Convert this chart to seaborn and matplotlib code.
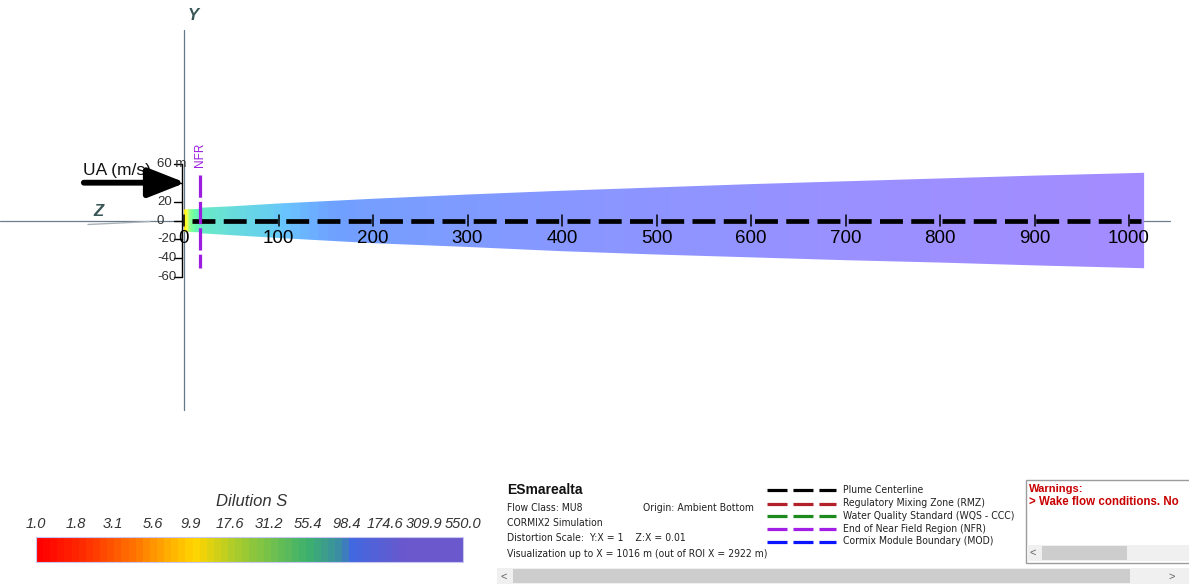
import numpy as np
import matplotlib
matplotlib.use("Agg")
import matplotlib.pyplot as plt
from matplotlib import font_manager
from matplotlib.colors import LinearSegmentedColormap, ListedColormap, LogNorm
from matplotlib.patches import Polygon, Rectangle
from matplotlib.cm import ScalarMappable
import seaborn as sns

# ---------------- data ----------------
# dilution S along the plume centreline (x in m)
plume_x = [0, 2, 4, 7, 12, 17, 50, 100, 200, 300, 500, 700, 1016]
dilution = [5.5, 12, 28, 45, 60, 68, 80, 95, 122, 140, 175, 205, 245]

# plume outline (half widths in m, upper and lower edges)
edge_x = [0, 17, 17, 50, 100, 200, 300, 400, 500, 600, 700, 800, 900, 1016]
edge_upper = [11.8, 12.3, 13.5, 15.0, 18.0, 23.0, 27.5, 31.5, 35.0, 38.5, 41.5, 44.5, 47.5, 50.5]
edge_lower = [-12.0, -12.5, -13.5, -15.5, -18.5, -24.0, -28.0, -32.5, -36.0, -39.0, -42.0, -44.5, -47.5, -50.5]

centerline_x = [8, 1013]
nfr_x = 17
x_ticks = [0, 100, 200, 300, 400, 500, 600, 700, 800, 900, 1000]
y_ticks = [60, 40, 20, 0, -20, -40, -60]
y_tick_labels = ["60 m", "40", "20", "0", "-20", "-40", "-60"]
ua_level = 40

s_min, s_max = 1.0, 550.0
cbar_values = [1.0, 1.8, 3.1, 5.6, 9.9, 17.6, 31.2, 55.4, 98.4, 174.6, 309.9, 550.0]
cbar_labels = ["1.0", "1.8", "3.1", "5.6", "9.9", "17.6", "31.2", "55.4", "98.4", "174.6", "309.9", "550.0"]

info_lines = ["Flow Class: MU8", "CORMIX2 Simulation",
              "Distortion Scale:  Y:X = 1    Z:X = 0.01",
              "Visualization up to X = 1016 m (out of ROI X = 2922 m)"]
legend_labels = ["Plume Centerline", "Regulatory Mixing Zone (RMZ)",
                 "Water Quality Standard (WQS - CCC)", "End of Near Field Region (NFR)",
                 "Cormix Module Boundary (MOD)"]
legend_colors = ["#000000", "#b3202a", "#1c8a1c", "#a21ee6", "#0a14ff"]

# ---------------- style ----------------
sns.set_theme(style="white")
plt.rcParams["font.family"] = ["Liberation Sans", "DejaVu Sans"]
plt.rcParams["lines.scale_dashes"] = False

names = {f.name for f in font_manager.fontManager.ttflist}
if "Liberation Sans Narrow" in names:
    narrow = dict(family=["Liberation Sans Narrow", "DejaVu Sans"])
else:
    narrow = dict(family=["DejaVu Sans"], stretch="condensed")

W, H = 1189, 584
PX = 0.945            # pixels per metre
X0, Y0 = 184, 220.5   # pixel position of the origin

fig = plt.figure(figsize=(W / 100, H / 100), dpi=100)
fig.patch.set_facecolor("white")
ax = fig.add_axes([0, 0, 1, 1])
ax.set_xlim(-X0 / PX, (W - X0) / PX)
ax.set_ylim(-(H - Y0) / PX, Y0 / PX)
ax.axis("off")

# ---------------- colour scale ----------------
anchors = [(0.00, "#ff0000"), (0.10, "#ff2a00"), (0.22, "#ff7000"), (0.30, "#ffaa00"),
           (0.37, "#ffd500"), (0.47, "#a8cc2c"), (0.56, "#6cbf50"), (0.64, "#3cb16e"),
           (0.72, "#3b8aa8"), (0.745, "#4168e0"), (0.87, "#6a58cc"), (1.00, "#6a58cc")]
smooth = LinearSegmentedColormap.from_list("dil", anchors)
stepped = ListedColormap(smooth(np.linspace(0, 1, 60)))
norm = LogNorm(s_min, s_max)

# ---------------- plume ----------------
xs = np.arange(0, 1017, 1.0)
logS = np.interp(xs, plume_x, np.log(dilution))
rgb = np.array(smooth(norm(np.exp(logS))))[:, :3]
lit = np.clip(rgb * 1.28 + 0.11, 0, 1)
img = np.repeat(lit[None, :, :], 2, axis=0)
im = ax.imshow(img, extent=[0, 1016, -60, 60], origin="lower", aspect="auto",
               interpolation="bilinear", zorder=2)
outline = np.column_stack([edge_x + edge_x[::-1], edge_upper + edge_lower[::-1]])
clip = Polygon(outline, closed=True, transform=ax.transData, facecolor="none", edgecolor="none")
ax.add_patch(clip)
im.set_clip_path(clip)

# ---------------- axes lines ----------------
ax.plot([-X0 / PX, (1170 - X0) / PX], [0, 0], color="#6c7c8c", lw=0.9, zorder=1)
ax.plot([0, 0], [(Y0 - 30) / PX, (Y0 - 410) / PX], color="#62778a", lw=0.9, zorder=1)
ax.plot([(88 - X0) / PX, (150 - X0) / PX], [-(224.5 - Y0) / PX, -(221.5 - Y0) / PX],
        color="#a8b0b8", lw=1.0, zorder=1)
ax.text(9.5, (Y0 - 15.5) / PX, "Y", fontsize=12, fontweight="bold", fontstyle="italic",
        color="#3a5656", ha="center", va="center")
ax.text(-91, (Y0 - 211) / PX, "Z", fontsize=12, fontweight="bold", fontstyle="italic",
        color="#3a5656", ha="center", va="center")

# Y ruler
ruler_x = -2.4
ax.plot([ruler_x, ruler_x], [-60, 60], color="black", lw=1.0, zorder=3)
for v, lab in zip(y_ticks, y_tick_labels):
    ax.plot([ruler_x - 8.5, ruler_x], [v, v], color="black", lw=1.0, zorder=3)
    ax.text(-28.6, v, lab, fontsize=9.5, color="#303030", ha="left", va="center", zorder=3)

# centreline
sns.lineplot(x=centerline_x, y=[0, 0], ax=ax, color="black", lw=3.4,
             linestyle=(0, (16.5, 6.0)), zorder=5, legend=False)
for t in x_ticks:
    ax.plot([t, t], [-5.5, 5.5], color="black", lw=1.1, zorder=5)
    ax.text(t, -19.5, str(t), fontsize=13.5, color="black", ha="center", va="center", zorder=6)

# near field region boundary
ax.plot([nfr_x, nfr_x], [48, -50], color="#9b1de0", lw=2.3,
        linestyle=(0, (16, 3)), zorder=6)
ax.text(nfr_x, 70, "NFR", rotation=90, fontsize=8.5, color="#9b1de0",
        ha="center", va="center")

# ambient current arrow
ax.text(-107, 53, "UA (m/s)", fontsize=12.5, color="#111111", ha="left", va="center", zorder=6)
ax.annotate("", xy=(1.5, ua_level), xytext=(-106, ua_level),
            arrowprops=dict(arrowstyle="-|>,head_length=1.9,head_width=0.75",
                            color="black", lw=4.2, shrinkA=0, shrinkB=0,
                            capstyle="round"), zorder=7)

# ---------------- colour bar ----------------
cax = fig.add_axes([36 / W, (H - 562) / H, 427 / W, 25 / H])
cb = fig.colorbar(ScalarMappable(norm=norm, cmap=stepped), cax=cax,
                  orientation="horizontal", ticks=cbar_values)
cb.minorticks_off()
cax.xaxis.set_ticks_position("top")
cax.set_xticks(cbar_values)
cax.set_xticklabels(cbar_labels, fontsize=10.5, fontstyle="italic", color="#333333")
cax.tick_params(axis="x", length=0, pad=4)
cb.outline.set_edgecolor("#c9c6f0")
cb.outline.set_linewidth(0.8)

# ---------------- overlay in pixel coordinates ----------------
ov = fig.add_axes([0, 0, 1, 1])
ov.set_xlim(0, W)
ov.set_ylim(H, 0)
ov.axis("off")
ov.patch.set_alpha(0)

ov.text(252, 502, "Dilution S", fontsize=12, fontstyle="italic", color="#333333",
        ha="center", va="center")

ov.text(507, 490, "ESmarealta", fontsize=10, fontweight="bold", color="#111111",
        ha="left", va="center")
ov.text(643, 508, "Origin: Ambient Bottom", fontsize=7.5, color="#222222",
        ha="left", va="center", **narrow)
for y, line in zip([508, 523, 538, 554], info_lines):
    ov.text(507, y, line, fontsize=7.5, color="#222222", ha="left", va="center", **narrow)

for y, lab, col in zip([490, 503.5, 516, 528.5, 541.5], legend_labels, legend_colors):
    ov.plot([767, 836], [y, y], color=col, lw=2.3, linestyle=(0, (14.4, 4.3)),
            solid_capstyle="butt", dash_capstyle="butt")
    ov.text(843, y, lab, fontsize=7.5, color="#222222", ha="left", va="center", **narrow)

# warnings panel
ov.add_patch(Rectangle((1026, 480), 200, 83, facecolor="white", edgecolor="#9c9c9c", lw=1))
ov.text(1029, 489, "Warnings:", fontsize=8, fontweight="bold", color="#c80000",
        ha="left", va="center")
ov.text(1029, 502, "> Wake flow conditions. No", fontsize=8.3, fontweight="bold",
        color="#c80000", ha="left", va="center")
ov.add_patch(Rectangle((1027, 545), 170, 16, facecolor="#f0f0f0", edgecolor="none"))
ov.add_patch(Rectangle((1042, 546), 85, 14, facecolor="#cdcdcd", edgecolor="none"))
ov.text(1033, 553, "<", fontsize=8, color="#606060", ha="center", va="center")

# horizontal scroll bar
ov.add_patch(Rectangle((497, 568), 700, 16, facecolor="#f0f0f0", edgecolor="none"))
ov.add_patch(Rectangle((513, 569), 617, 14, facecolor="#cdcdcd", edgecolor="none"))
ov.text(504, 576.5, "<", fontsize=8, color="#606060", ha="center", va="center")
ov.text(1172, 576.5, ">", fontsize=8, color="#606060", ha="center", va="center")

fig.savefig("out.png", dpi=100, facecolor="white")
